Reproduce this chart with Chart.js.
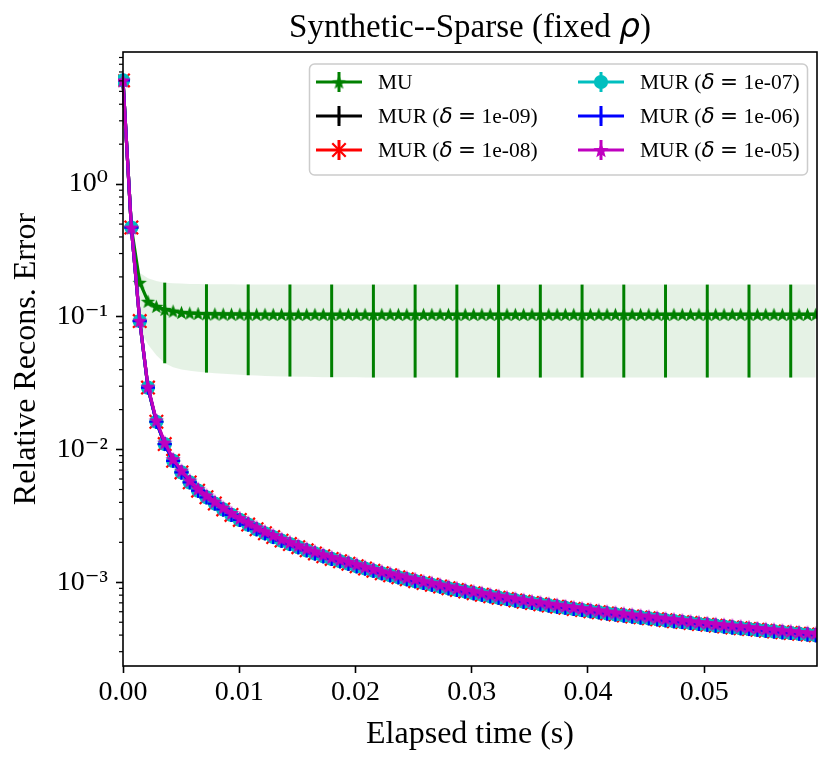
<!DOCTYPE html>
<html>
<head>
<meta charset="utf-8">
<script src="https://cdn.jsdelivr.net/npm/chart.js@4.4.0/dist/chart.umd.min.js"></script>
<style>
  html, body { margin: 0; padding: 0; background: #fff; }
  canvas { display: block; }
</style>
</head>
<body>
<canvas id="chart" width="831" height="762"></canvas>
<script>
// elapsed time of each iteration (s), same grid for all runs
const timeS = [
  0, 0.00072, 0.00144, 0.00215, 0.00287, 0.00359, 0.00431, 0.00503, 0.00574, 0.00646,
  0.00718, 0.00790, 0.00862, 0.00933, 0.01005, 0.01077, 0.01149, 0.01221, 0.01292, 0.01364,
  0.01436, 0.01508, 0.01580, 0.01651, 0.01723, 0.01795, 0.01867, 0.01939, 0.02010, 0.02082,
  0.02154, 0.02226, 0.02298, 0.02369, 0.02441, 0.02513, 0.02585, 0.02657, 0.02728, 0.02800,
  0.02872, 0.02944, 0.03016, 0.03087, 0.03159, 0.03231, 0.03303, 0.03375, 0.03446, 0.03518,
  0.03590, 0.03662, 0.03734, 0.03805, 0.03877, 0.03949, 0.04021, 0.04093, 0.04164, 0.04236,
  0.04308, 0.04380, 0.04452, 0.04523, 0.04595, 0.04667, 0.04739, 0.04811, 0.04882, 0.04954,
  0.05026, 0.05098, 0.05170, 0.05241, 0.05313, 0.05385, 0.05457, 0.05529, 0.05600, 0.05672,
  0.05744, 0.05816, 0.05888, 0.05959
];

// MU mean error and its shaded spread
const errMU = [
  6.05, 0.471, 0.182, 0.131, 0.120, 0.1138, 0.1106, 0.1080, 0.1068, 0.1060,
  0.1055, 0.1052, 0.1050, 0.1049, 0.1048, 0.1047, 0.1046, 0.1046, 0.1045, 0.1045,
  0.1045, 0.1045, 0.1044, 0.1044, 0.1044, 0.1044, 0.1044, 0.1044, 0.1044, 0.1044,
  0.1044, 0.1044, 0.1044, 0.1044, 0.1044, 0.1044, 0.1044, 0.1044, 0.1044, 0.1044,
  0.1044, 0.1044, 0.1044, 0.1044, 0.1044, 0.1044, 0.1044, 0.1044, 0.1044, 0.1044,
  0.1044, 0.1044, 0.1044, 0.1044, 0.1044, 0.1044, 0.1044, 0.1044, 0.1044, 0.1044,
  0.1044, 0.1044, 0.1044, 0.1044, 0.1044, 0.1044, 0.1044, 0.1044, 0.1044, 0.1044,
  0.1044, 0.1044, 0.1044, 0.1044, 0.1044, 0.1044, 0.1044, 0.1044, 0.1044, 0.1044,
  0.1044, 0.1044, 0.1044, 0.1044
];
const errMUHigh = [
  6.05, 0.471, 0.215, 0.195, 0.186, 0.181, 0.179, 0.178, 0.177, 0.1765,
  0.176, 0.176, 0.1758, 0.1757, 0.1756, 0.1755, 0.1755, 0.1754, 0.1754, 0.1753,
  0.1753, 0.1752, 0.1752, 0.1752, 0.1752, 0.1752, 0.1752, 0.1752, 0.1752, 0.1752,
  0.175, 0.175, 0.175, 0.175, 0.175, 0.175, 0.175, 0.175, 0.175, 0.175,
  0.175, 0.175, 0.175, 0.175, 0.175, 0.175, 0.175, 0.175, 0.175, 0.175,
  0.175, 0.175, 0.175, 0.175, 0.175, 0.175, 0.175, 0.175, 0.175, 0.175,
  0.175, 0.175, 0.175, 0.175, 0.175, 0.175, 0.175, 0.175, 0.175, 0.175,
  0.175, 0.175, 0.175, 0.175, 0.175, 0.175, 0.175, 0.175, 0.175, 0.175,
  0.175, 0.175, 0.175, 0.175
];
const errMULow = [
  6.05, 0.471, 0.080, 0.062, 0.0513, 0.0447, 0.0417, 0.0402, 0.0392, 0.0385,
  0.0380, 0.0376, 0.0372, 0.0369, 0.0366, 0.0363, 0.0361, 0.0359, 0.0357, 0.0356,
  0.0355, 0.0354, 0.0353, 0.0352, 0.0351, 0.0351, 0.0350, 0.0350, 0.0350, 0.0349,
  0.0349, 0.0349, 0.0349, 0.0349, 0.0349, 0.0349, 0.0349, 0.0349, 0.0349, 0.0349,
  0.0349, 0.0349, 0.0349, 0.0349, 0.0349, 0.0349, 0.0349, 0.0349, 0.0349, 0.0349,
  0.0349, 0.0349, 0.0349, 0.0349, 0.0349, 0.0349, 0.0349, 0.0349, 0.0349, 0.0349,
  0.0349, 0.0349, 0.0349, 0.0349, 0.0349, 0.0349, 0.0349, 0.0349, 0.0349, 0.0349,
  0.0349, 0.0349, 0.0349, 0.0349, 0.0349, 0.0349, 0.0349, 0.0349, 0.0349, 0.0349,
  0.0349, 0.0349, 0.0349, 0.0349
];

// MUR runs with delta = 1e-09 ... 1e-06 lie on top of each other in the picture
const errMUR = [
  6.05, 0.471, 0.0929, 0.0293, 0.0162, 0.0110, 0.00822, 0.00673, 0.00566, 0.00490,
  0.00437, 0.00392, 0.00354, 0.00322, 0.00295, 0.00272, 0.00251, 0.00234, 0.00219, 0.00206,
  0.00194, 0.00184, 0.00174, 0.00165, 0.00157, 0.00150, 0.00144, 0.00138, 0.00132, 0.00127,
  0.00122, 0.00117, 0.00113, 0.00109, 0.001055, 0.00102, 0.000988, 0.000958, 0.000929, 0.000901,
  0.000876, 0.000851, 0.000828, 0.000806, 0.000784, 0.000765, 0.000747, 0.000730, 0.000714, 0.000698,
  0.000683, 0.000669, 0.000655, 0.000642, 0.000629, 0.000617, 0.000605, 0.000594, 0.000583, 0.000573,
  0.000563, 0.000553, 0.000544, 0.000535, 0.000526, 0.000517, 0.000509, 0.000501, 0.000493, 0.000485,
  0.000478, 0.000471, 0.000464, 0.000457, 0.000451, 0.000444, 0.000438, 0.000432, 0.000426, 0.000420,
  0.000415, 0.000409, 0.000404, 0.000399
];
// MUR delta = 1e-05, drawn last, sits a touch higher
const errMUR5 = [
  6.05, 0.471, 0.0935, 0.0298, 0.0166, 0.0113, 0.00848, 0.00695, 0.00585, 0.00507,
  0.00452, 0.00406, 0.00366, 0.00333, 0.00305, 0.00282, 0.00260, 0.00242, 0.00227, 0.00213,
  0.00201, 0.00190, 0.00180, 0.00171, 0.00162, 0.00155, 0.00149, 0.00143, 0.00137, 0.00131,
  0.00126, 0.00121, 0.00117, 0.00113, 0.00109, 0.00106, 0.00102, 0.000992, 0.000962, 0.000933,
  0.000907, 0.000881, 0.000857, 0.000834, 0.000811, 0.000792, 0.000773, 0.000756, 0.000739, 0.000722,
  0.000707, 0.000692, 0.000678, 0.000664, 0.000651, 0.000639, 0.000626, 0.000615, 0.000603, 0.000593,
  0.000583, 0.000572, 0.000563, 0.000554, 0.000544, 0.000535, 0.000527, 0.000519, 0.000510, 0.000502,
  0.000495, 0.000487, 0.000480, 0.000473, 0.000467, 0.000460, 0.000453, 0.000447, 0.000441, 0.000435,
  0.000430, 0.000423, 0.000418, 0.000413
];

const seriesLabels = ['MU', 'MUR (δ = 1e-09)', 'MUR (δ = 1e-08)', 'MUR (δ = 1e-07)', 'MUR (δ = 1e-06)', 'MUR (δ = 1e-05)'];
const xTicks = [0, 0.01, 0.02, 0.03, 0.04, 0.05];
const yTicks = [1e-3, 1e-2, 1e-1, 1e0];
const yTickLabels = ['10⁻³', '10⁻²', '10⁻¹', '10⁰'];
const titleText = 'Synthetic--Sparse (fixed ρ)';
const errEvery = 5;

const SERIF = '"Liberation Serif", "DejaVu Serif", serif';
Chart.defaults.font.family = SERIF;
Chart.defaults.color = '#000';

function starImage(color, r) {
  const c = document.createElement('canvas');
  const s = Math.ceil(r * 2 + 2);
  c.width = s;
  c.height = s;
  const g = c.getContext('2d');
  g.fillStyle = color;
  g.beginPath();
  for (let k = 0; k < 10; k++) {
    const rad = k % 2 ? r * 0.42 : r;
    const a = -Math.PI / 2 + k * Math.PI / 5;
    const px = s / 2 + rad * Math.cos(a);
    const py = s / 2 + rad * Math.sin(a) + r * 0.1;
    if (k) g.lineTo(px, py); else g.moveTo(px, py);
  }
  g.closePath();
  g.fill();
  return c;
}

function pts(arr) {
  return timeS.map((t, i) => ({ x: t, y: arr[i] }));
}

function series(label, arr, color, style, radius, order) {
  return {
    label: label, data: pts(arr), borderColor: color, backgroundColor: color,
    borderWidth: 3.2, pointStyle: style, pointRadius: radius, pointBorderWidth: 2.2,
    pointBorderColor: color, pointBackgroundColor: color,
    fill: false, tension: 0, order: order, clip: { left: 5, top: 0, right: 0, bottom: 0 }
  };
}

const MU_INDEX = 2;
const datasets = [
  { label: 'band', band: true, data: pts(errMUHigh), borderWidth: 0, pointRadius: 0,
    backgroundColor: 'rgba(0,128,0,0.1)', fill: '+1', order: 20, clip: 0 },
  { label: 'band', band: true, data: pts(errMULow), borderWidth: 0, pointRadius: 0,
    backgroundColor: 'rgba(0,0,0,0)', fill: false, order: 20, clip: 0 },
  series(seriesLabels[0], errMU, '#008000', starImage('#008000', 7.5), 7, 7),
  series(seriesLabels[1], errMUR, '#000000', 'cross', 7, 6),
  series(seriesLabels[2], errMUR, '#ff0000', 'crossRot', 9.5, 5),
  series(seriesLabels[3], errMUR, '#00bfbf', 'circle', 6, 4),
  series(seriesLabels[4], errMUR, '#0000ff', 'cross', 7, 3),
  series(seriesLabels[5], errMUR5, '#bf00bf', starImage('#bf00bf', 8), 7, 2)
];

function richText(ctx, text, x, y, size, measureOnly) {
  const parts = text.split(/([δρ=])/).filter(p => p);
  let w = 0;
  for (const p of parts) {
    if (p === 'δ' || p === 'ρ') ctx.font = 'italic ' + size + 'px "DejaVu Sans"';
    else if (p === '=') ctx.font = size + 'px "DejaVu Sans"';
    else ctx.font = size + 'px ' + SERIF;
    if (!measureOnly) ctx.fillText(p, x + w, y);
    w += ctx.measureText(p).width;
  }
  return w;
}

const decor = {
  id: 'decor',
  afterDatasetDraw(chart, args) {
    if (args.index !== MU_INDEX) return;
    const { ctx, scales: { x, y } } = chart;
    ctx.save();
    ctx.strokeStyle = '#008000';
    ctx.lineWidth = 3;
    for (let i = errEvery; i < timeS.length; i += errEvery) {
      const px = x.getPixelForValue(timeS[i]);
      ctx.beginPath();
      ctx.moveTo(px, y.getPixelForValue(errMUHigh[i]));
      ctx.lineTo(px, y.getPixelForValue(errMULow[i]));
      ctx.stroke();
    }
    ctx.restore();
  },
  afterDraw(chart) {
    const { ctx, chartArea: a, scales: { y } } = chart;
    ctx.save();
    // minor log ticks
    ctx.strokeStyle = '#000';
    ctx.lineWidth = 1.2;
    for (let e = -4; e <= 0; e++) {
      for (let m = 2; m <= 9; m++) {
        const v = m * Math.pow(10, e);
        if (v < y.min || v > y.max) continue;
        const py = y.getPixelForValue(v);
        ctx.beginPath();
        ctx.moveTo(a.left - 4, py);
        ctx.lineTo(a.left, py);
        ctx.stroke();
      }
    }
    // frame
    ctx.lineWidth = 1.6;
    ctx.strokeRect(a.left, a.top, a.right - a.left, a.bottom - a.top);

    // title
    ctx.fillStyle = '#000';
    ctx.textBaseline = 'alphabetic';
    const tw = richText(ctx, titleText, 0, 0, 33, true);
    richText(ctx, titleText, (a.left + a.right) / 2 - tw / 2, 37, 33);

    // legend
    const bx = 309.5, by = 64, bw = 498, bh = 111;
    ctx.beginPath();
    ctx.roundRect(bx, by, bw, bh, 5);
    ctx.fillStyle = 'rgba(255,255,255,0.8)';
    ctx.fill();
    ctx.strokeStyle = '#cccccc';
    ctx.lineWidth = 1.5;
    ctx.stroke();
    const items = chart.data.datasets.filter(d => !d.band);
    items.forEach((d, k) => {
      const col = Math.floor(k / 3), row = k % 3;
      const lx = col ? 578 : 316;
      const cy = 82 + row * 34;
      const cx = lx + 23;
      ctx.strokeStyle = d.borderColor;
      ctx.fillStyle = d.borderColor;
      ctx.lineWidth = 3;
      ctx.beginPath();
      ctx.moveTo(lx, cy); ctx.lineTo(lx + 46, cy);
      ctx.moveTo(cx, cy - 10); ctx.lineTo(cx, cy + 10);
      ctx.stroke();
      ctx.lineWidth = d.pointBorderWidth;
      Chart.helpers.drawPoint(ctx, { pointStyle: d.pointStyle, radius: d.pointRadius, rotation: 0, borderWidth: d.pointBorderWidth }, cx, cy);
      ctx.fillStyle = '#000';
      ctx.textBaseline = 'middle';
      richText(ctx, d.label, lx + 62, cy + 1, 21.5);
    });
    ctx.restore();
  }
};

new Chart(document.getElementById('chart'), {
  type: 'line',
  data: { datasets: datasets },
  plugins: [decor],
  options: {
    responsive: false,
    animation: false,
    layout: { padding: { top: 52, right: 14, left: 0, bottom: 0 } },
    plugins: { legend: { display: false }, tooltip: { enabled: false }, title: { display: false } },
    scales: {
      x: {
        type: 'linear', position: 'bottom', min: 0, max: 0.0597,
        afterBuildTicks: s => { s.ticks = xTicks.map(v => ({ value: v })); },
        afterFit: s => { s.height = 96; },
        ticks: { autoSkip: false, maxRotation: 0, padding: 3, font: { size: 28 },
          callback: v => v.toFixed(2) },
        grid: { drawOnChartArea: false, drawTicks: true, tickLength: 7, tickColor: '#000', tickWidth: 1.6 },
        border: { display: false },
        title: { display: true, text: 'Elapsed time (s)', font: { size: 32, lineHeight: 1 },
          padding: { top: 0, bottom: 11 } }
      },
      y: {
        type: 'logarithmic', position: 'left', min: 2.34e-4, max: 9.9,
        afterBuildTicks: s => { s.ticks = yTicks.map(v => ({ value: v })); },
        afterFit: s => { s.width = 123; },
        ticks: { autoSkip: false, padding: 8, font: { size: 28 },
          callback: v => {
            const k = yTicks.findIndex(t => Math.abs(t - v) / t < 1e-6);
            return k >= 0 ? yTickLabels[k] : '';
          } },
        grid: { drawOnChartArea: false, drawTicks: true, tickLength: 7, tickColor: '#000', tickWidth: 1.6 },
        border: { display: false },
        title: { display: true, text: 'Relative Recons. Error', font: { size: 32, lineHeight: 1 },
          padding: { top: 11, bottom: 0 } }
      }
    }
  }
});
</script>
</body>
</html>
